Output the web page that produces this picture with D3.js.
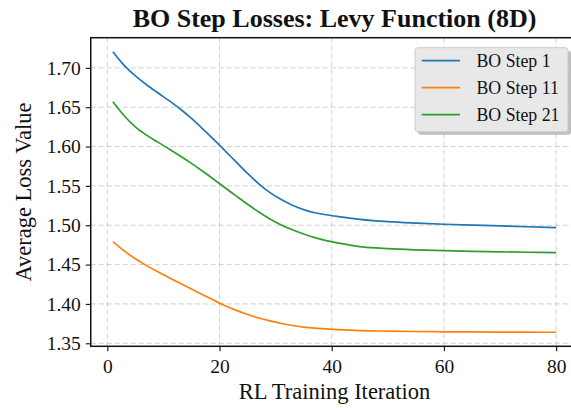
<!DOCTYPE html>
<html>
<head>
<meta charset="utf-8">
<script src="https://cdn.jsdelivr.net/npm/d3@7"></script>
<style>
  html, body { margin: 0; padding: 0; background: #ffffff; }
  svg { display: block; }
  text { font-family: "Liberation Serif", "Times New Roman", serif; fill: #111; }
</style>
</head>
<body>
<svg id="chart" width="571" height="408"></svg>
<script>
// Training iterations at which the losses were recorded
const iterations = [1, 3, 5, 7, 9, 11, 13, 15, 17, 19, 21, 23, 25, 27, 29, 31, 33, 35, 37, 39, 41,
                    45, 50, 55, 60, 65, 70, 75, 80];

// Average loss per BO step
const step1Loss = [1.7205, 1.7032, 1.6898, 1.6785, 1.6683, 1.6583, 1.6477, 1.6357, 1.6225, 1.6087, 1.5945,
                   1.5801, 1.5659, 1.5527, 1.5415, 1.5327, 1.5255, 1.5199, 1.5159, 1.5133, 1.5112,
                   1.5075, 1.5045, 1.5027, 1.5013, 1.5002, 1.4992, 1.4981, 1.4970];
const step11Loss = [1.4792, 1.4675, 1.4574, 1.4487, 1.4408, 1.4334, 1.4262, 1.4190, 1.4118, 1.4046, 1.3978,
                    1.3918, 1.3866, 1.3822, 1.3784, 1.3752, 1.3726, 1.3706, 1.3692, 1.3682, 1.3674,
                    1.3662, 1.3655, 1.3650, 1.3646, 1.3644, 1.3642, 1.3641, 1.3640];
const step21Loss = [1.6568, 1.6392, 1.6250, 1.6145, 1.6056, 1.5970, 1.5880, 1.5786, 1.5686, 1.5582, 1.5476,
                    1.5370, 1.5266, 1.5168, 1.5080, 1.5004, 1.4942, 1.4888, 1.4842, 1.4805, 1.4776,
                    1.4728, 1.4702, 1.4687, 1.4677, 1.4669, 1.4662, 1.4657, 1.4652];

const seriesNames  = ["BO Step 1", "BO Step 11", "BO Step 21"];
const seriesColors = ["#1f77b4", "#ff7f0e", "#2ca02c"];
const xTicks = [0, 20, 40, 60, 80];
const yTicks = [1.35, 1.40, 1.45, 1.50, 1.55, 1.60, 1.65, 1.70];

const titleText  = "BO Step Losses: Levy Function (8D)";
const xLabelText = "RL Training Iteration";
const yLabelText = "Average Loss Value";

const series = [step1Loss, step11Loss, step21Loss].map((vals, i) => ({
  name: seriesNames[i],
  color: seriesColors[i],
  points: iterations.map((x, j) => ({ x, y: vals[j] }))
}));

// Plot area
const plotLeft = 90.75, plotRight = 578.3, plotTop = 37.7, plotBottom = 346.3;

// Domains padded by 5% on each side
function padded(lo, hi) { const m = (hi - lo) * 0.05; return [lo - m, hi + m]; }
const xExt = d3.extent(iterations);
const allY = [].concat(step1Loss, step11Loss, step21Loss);
const yExt = d3.extent(allY);

const x = d3.scaleLinear().domain(padded(xExt[0], xExt[1])).range([plotLeft, plotRight]);
const y = d3.scaleLinear().domain(padded(yExt[0], yExt[1])).range([plotBottom, plotTop]);

const svg = d3.select("#chart");

// Grid
const grid = svg.append("g").attr("stroke", "#b0b0b0").attr("stroke-opacity", 0.6)
  .attr("stroke-width", 1).attr("stroke-dasharray", "5,3");
grid.selectAll(".gx").data(xTicks).join("line")
  .attr("x1", d => x(d)).attr("x2", d => x(d)).attr("y1", plotTop).attr("y2", plotBottom);
grid.selectAll(".gy").data(yTicks).join("line")
  .attr("x1", plotLeft).attr("x2", plotRight).attr("y1", d => y(d)).attr("y2", d => y(d));

// Loss curves
const line = d3.line().x(d => x(d.x)).y(d => y(d.y)).curve(d3.curveCatmullRom.alpha(0.5));
svg.append("g").selectAll("path").data(series).join("path")
  .attr("d", d => line(d.points))
  .attr("fill", "none")
  .attr("stroke", d => d.color)
  .attr("stroke-width", 1.7)
  .attr("stroke-linejoin", "round")
  .attr("stroke-linecap", "butt");

// Axes
const xAxis = d3.axisBottom(x).tickValues(xTicks).tickFormat(d3.format("d")).tickSize(5).tickPadding(7.5);
const yAxis = d3.axisLeft(y).tickValues(yTicks).tickFormat(d3.format(".2f")).tickSize(5).tickPadding(5);

const gx = svg.append("g").attr("transform", `translate(0,${plotBottom})`).call(xAxis);
const gy = svg.append("g").attr("transform", `translate(${plotLeft},0)`).call(yAxis);
[gx, gy].forEach(g => {
  g.select(".domain").remove();
  g.selectAll(".tick line").attr("stroke", "#222").attr("stroke-width", 1.2);
  g.selectAll(".tick text").style("font-size", "19.5px").attr("fill", "#111");
});

// Spines
svg.append("rect")
  .attr("x", plotLeft).attr("y", plotTop)
  .attr("width", plotRight - plotLeft).attr("height", plotBottom - plotTop)
  .attr("fill", "none").attr("stroke", "#111").attr("stroke-width", 1.5);

// Title and axis labels
svg.append("text")
  .attr("x", (plotLeft + plotRight) / 2).attr("y", 27)
  .attr("text-anchor", "middle")
  .style("font-size", "26px").style("font-weight", "bold")
  .text(titleText);

svg.append("text")
  .attr("x", (plotLeft + plotRight) / 2).attr("y", 399)
  .attr("text-anchor", "middle")
  .style("font-size", "22.5px")
  .text(xLabelText);

svg.append("text")
  .attr("transform", `translate(31,${(plotTop + plotBottom) / 2}) rotate(-90)`)
  .attr("text-anchor", "middle")
  .style("font-size", "22.5px")
  .text(yLabelText);

// Legend
const lg = svg.append("g").attr("transform", "translate(415,47.7)");
const lw = 153, lh = 84;
lg.append("rect").attr("x", 3).attr("y", 3).attr("width", lw).attr("height", lh)
  .attr("rx", 3).attr("fill", "#888").attr("fill-opacity", 0.55);
lg.append("rect").attr("width", lw).attr("height", lh).attr("rx", 3)
  .attr("fill", "#e8e8e8").attr("stroke", "#cccccc").attr("stroke-width", 1);
const rows = lg.selectAll(".row").data(series).join("g")
  .attr("transform", (d, i) => `translate(0,${13 + i * 27})`);
rows.append("line").attr("x1", 6.7).attr("x2", 45).attr("y1", 0).attr("y2", 0)
  .attr("stroke", d => d.color).attr("stroke-width", 1.7);
rows.append("text").attr("x", 61.5).attr("y", 6)
  .style("font-size", "17.8px").text(d => d.name);
</script>
</body>
</html>
